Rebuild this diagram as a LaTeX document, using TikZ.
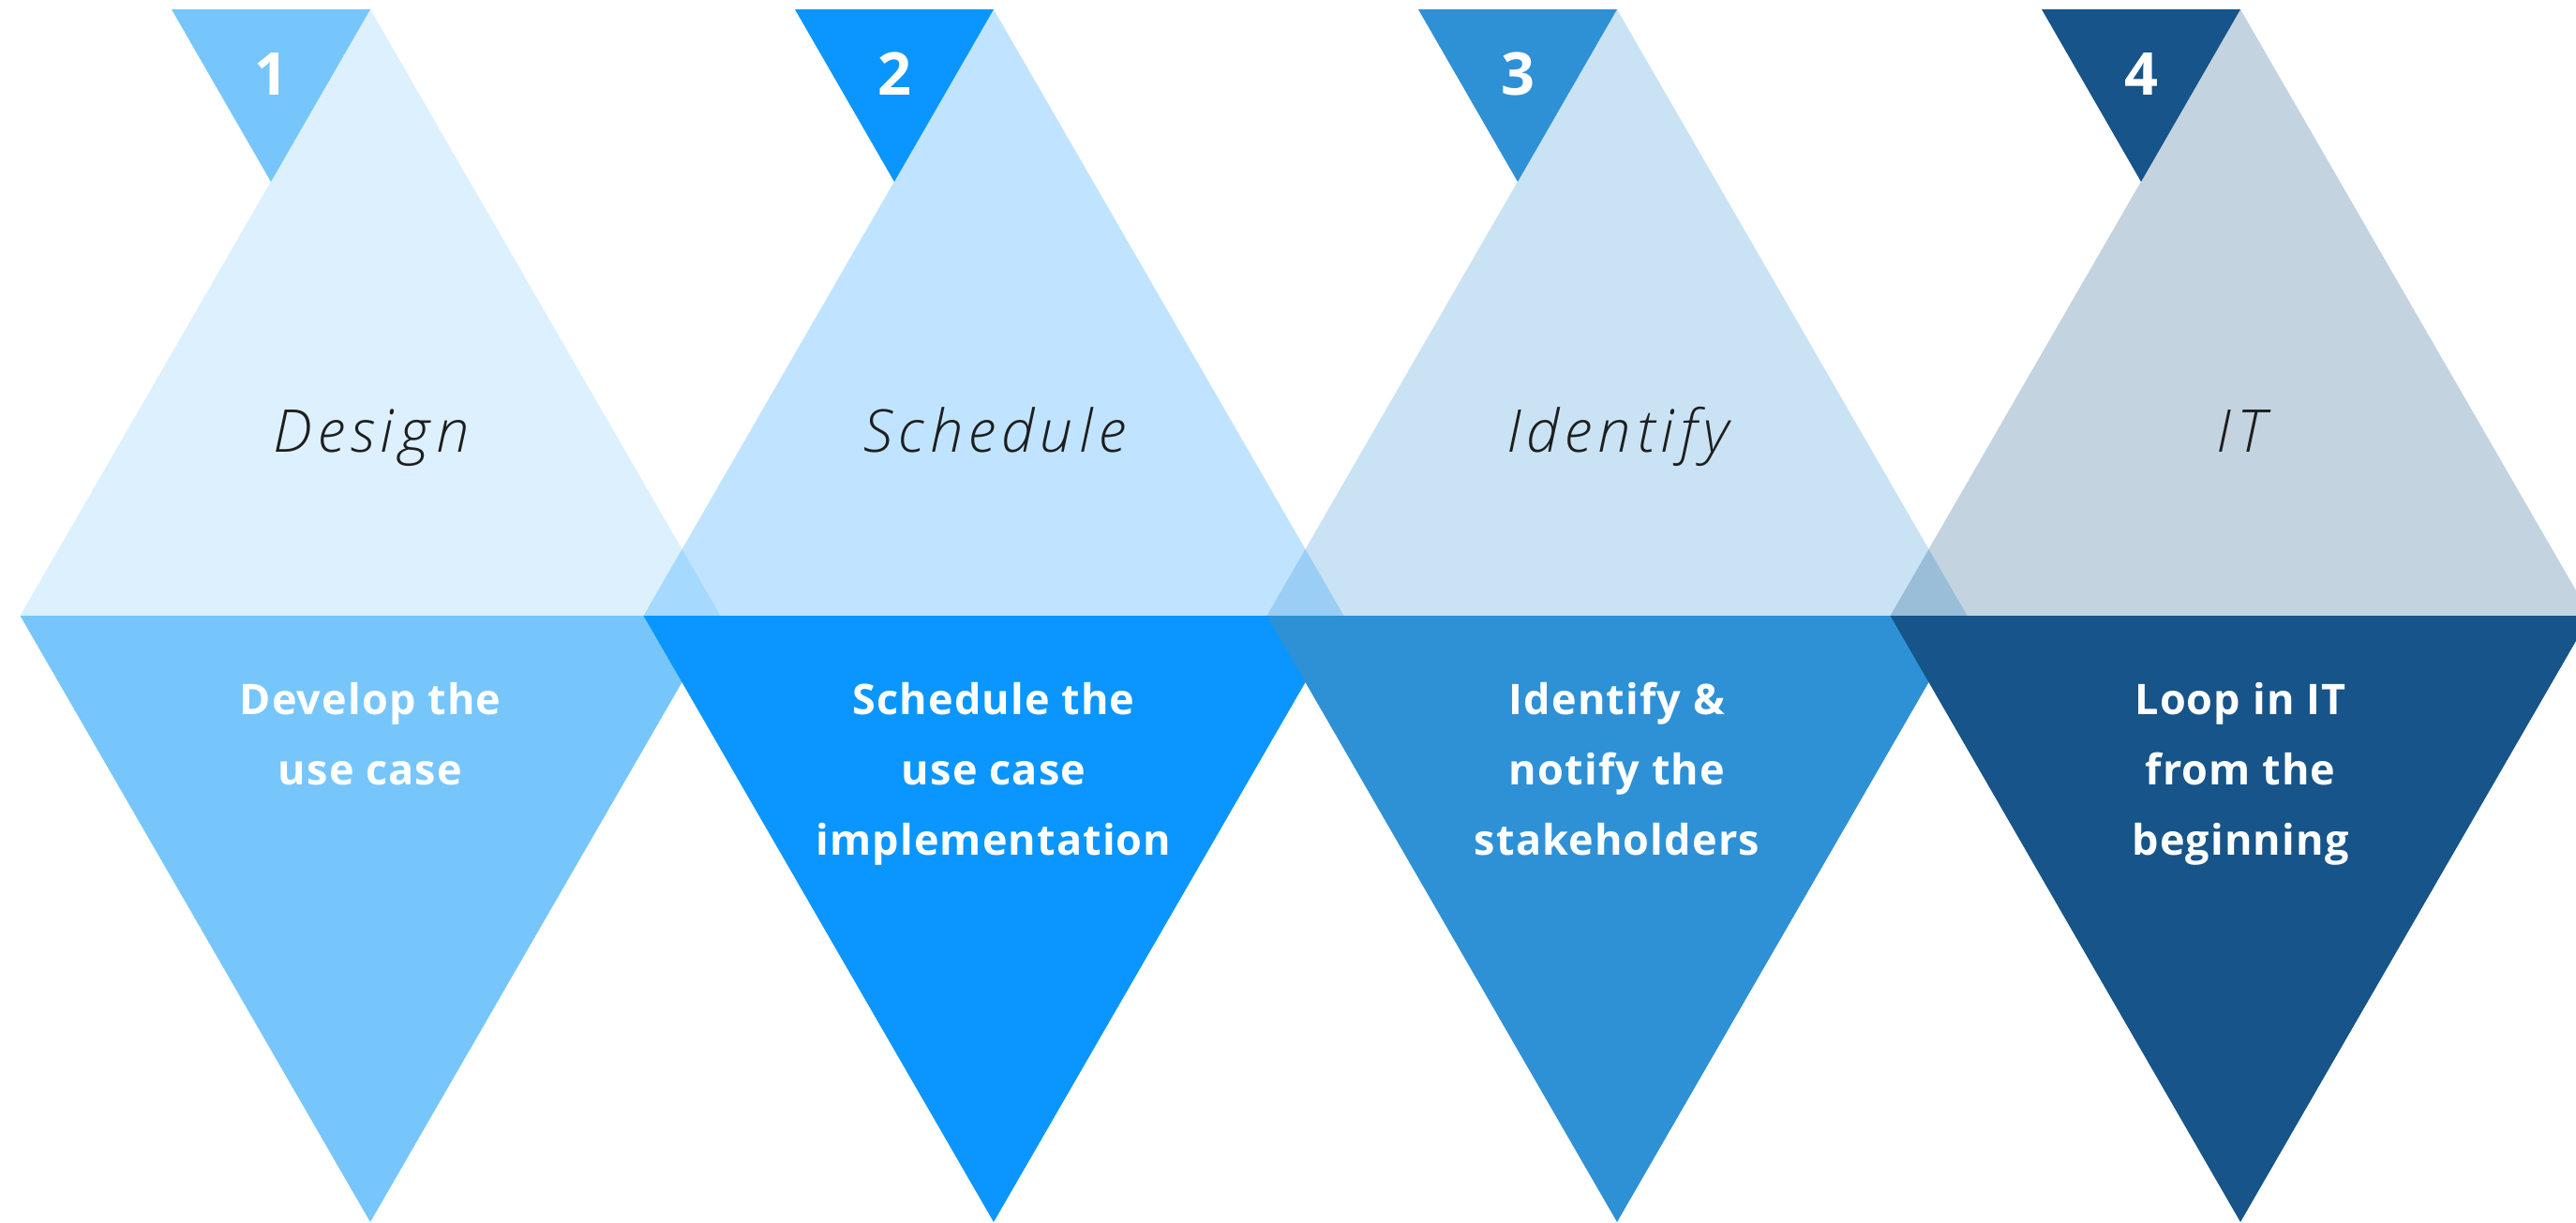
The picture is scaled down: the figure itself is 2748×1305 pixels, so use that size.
\documentclass[tikz,border=0pt]{standalone}
\usepackage{fontspec}
\setmainfont{Open Sans}
\newfontfamily\labelfont{Open Sans Light Italic}[LetterSpace=10]
\newfontfamily\boldfont{Open Sans Bold}[LetterSpace=2.5]
\newfontfamily\numfont{Open Sans Bold}
\definecolor{cA}{HTML}{76C6FC}
\definecolor{cB}{HTML}{0A96FE}
\definecolor{cC}{HTML}{2E91D6}
\definecolor{cD}{HTML}{165489}
\definecolor{txtgray}{HTML}{1E1E1E}
\begin{document}
\begin{tikzpicture}[x=1pt,y=-1pt,
  lighttri/.style={fill=#1, fill opacity=0.26},
  darktri/.style={fill=#1},
  numtxt/.style={text=white, font=\numfont\fontsize{63}{63}\selectfont, anchor=base, inner sep=0pt},
  toptxt/.style={text=txtgray, font=\labelfont\fontsize{63}{63}\selectfont, anchor=base, inner sep=0pt},
  bottxt/.style={text=white, font=\boldfont\fontsize{45}{45}\selectfont, anchor=base, inner sep=0pt}]
\useasboundingbox (0,0) rectangle (2748,1305);
\clip (0,0) rectangle (2748,1305);
% lower (dark) triangles, later ones on top
\foreach \c/\col in {395/cA,1060/cB,1725/cC,2390/cD} {
  \fill[darktri=\col] (\c-373.5,657) -- (\c+373.5,657) -- (\c,1304) -- cycle;
}
% upper (light) triangles
\foreach \c/\col in {395/cA,1060/cB,1725/cC,2390/cD} {
  \fill[lighttri=\col] (\c,10) -- (\c+373.5,657) -- (\c-373.5,657) -- cycle;
}
% small number triangles
\foreach \c/\col in {395/cA,1060/cB,1725/cC,2390/cD} {
  \fill[darktri=\col] (\c-212,10) -- (\c,10) -- (\c-106,194) -- cycle;
}
% numbers
\node[numtxt] (n1) at (289,102) {1};
\node[numtxt] (n2) at (954,102) {2};
\node[numtxt] (n3) at (1619,102) {3};
\node[numtxt] (n4) at (2284,102) {4};
% upper labels
\node[toptxt] (t1) at (396,482) {Design};
\node[toptxt] (t2) at (1061,482) {Schedule};
\node[toptxt] (t3) at (1726,482) {Identify};
\node[toptxt] (t4) at (2391,482) {IT};
% lower texts
\node[bottxt] (b1a) at (395,762) {Develop the};
\node[bottxt] (b1b) at (395,837) {use case};
\node[bottxt] (b2a) at (1060,762) {Schedule the};
\node[bottxt] (b2b) at (1060,837) {use case};
\node[bottxt] (b2c) at (1060,912) {implementation};
\node[bottxt] (b3a) at (1725,762) {Identify \&};
\node[bottxt] (b3b) at (1725,837) {notify the};
\node[bottxt] (b3c) at (1725,912) {stakeholders};
\node[bottxt] (b4a) at (2390,762) {Loop in IT};
\node[bottxt] (b4b) at (2390,837) {from the};
\node[bottxt] (b4c) at (2390,912) {beginning};
\end{tikzpicture}
\end{document}
